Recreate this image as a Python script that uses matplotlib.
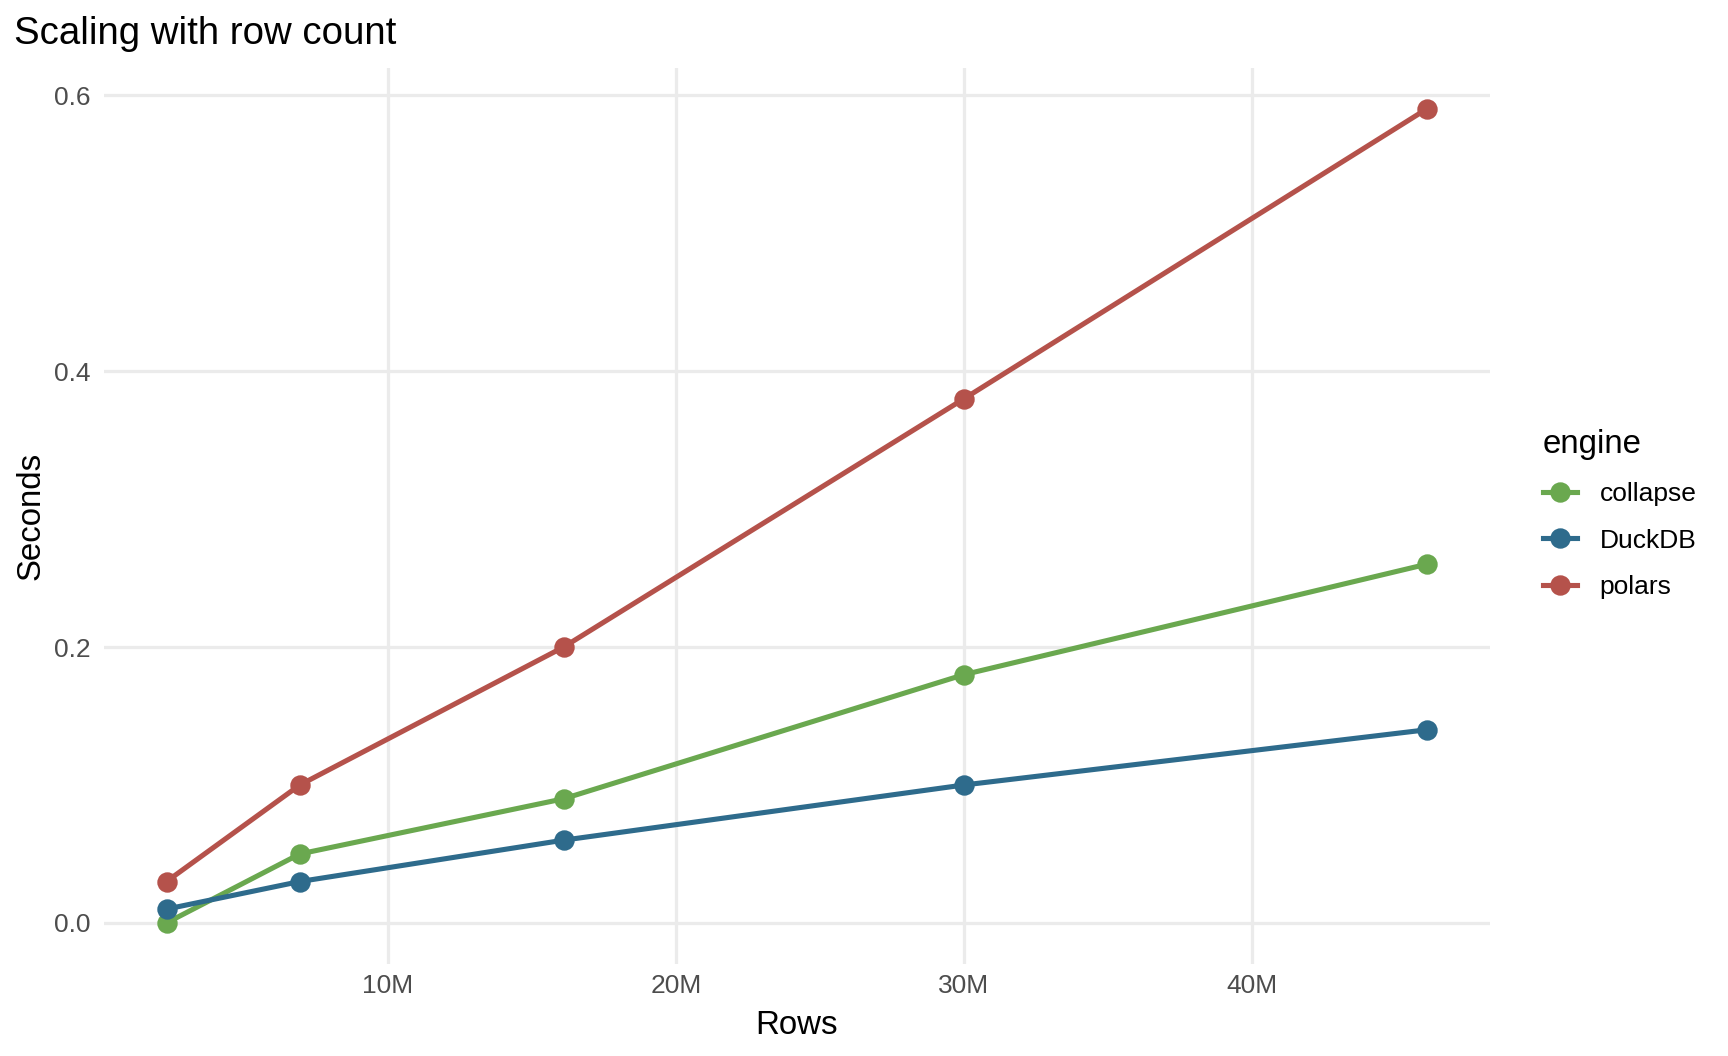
import matplotlib
matplotlib.use("Agg")
import matplotlib.pyplot as plt
from matplotlib.lines import Line2D
from matplotlib.ticker import FuncFormatter

rows_m = [2.31, 6.94, 16.1, 30.0, 46.06]
engines = ["collapse", "DuckDB", "polars"]
collapse = [0.0, 0.05, 0.09, 0.18, 0.26]
duckdb = [0.01, 0.03, 0.06, 0.10, 0.14]
polars = [0.03, 0.10, 0.20, 0.38, 0.59]
colors = {"collapse": "#6AA84F", "DuckDB": "#2E6B8C", "polars": "#B5524B"}
series = {"collapse": collapse, "DuckDB": duckdb, "polars": polars}
xticks = [10, 20, 30, 40]
yticks = [0.0, 0.2, 0.4, 0.6]

plt.rcParams['font.family'] = ['Liberation Sans', 'DejaVu Sans']

W, H = 1728, 1056
fig = plt.figure(figsize=(8, H / 216), dpi=216)
ax = fig.add_axes([103.5 / W, 1 - 963.6 / H, (1489.5 - 103.5) / W, (963.6 - 68.4) / H])

rows = [r * 1e6 for r in rows_m]
for name in engines:
    ax.plot(rows, series[name], color=colors[name], lw=1.7, marker='o',
            markersize=5.8, solid_capstyle='butt', zorder=3)

xr = max(rows) - min(rows)
ax.set_xlim(min(rows) - 0.05 * xr, max(rows) + 0.05 * xr)
ally = collapse + duckdb + polars
yr = max(ally) - min(ally)
ax.set_ylim(min(ally) - 0.05 * yr, max(ally) + 0.05 * yr)

ax.set_xticks([t * 1e6 for t in xticks])
ax.xaxis.set_major_formatter(FuncFormatter(lambda v, p: f"{int(round(v / 1e6))}M"))
ax.set_yticks(yticks)
ax.yaxis.set_major_formatter(FuncFormatter(lambda v, p: f"{v:.1f}"))

for s in ax.spines.values():
    s.set_visible(False)
ax.grid(True, color='#EBEBEB', lw=1.1, zorder=0)
ax.set_axisbelow(True)
ax.tick_params(length=0, labelsize=8.8, labelcolor='#4D4D4D')
ax.tick_params(axis='x', pad=3.5)
ax.tick_params(axis='y', pad=4.4)

ax.set_xlabel("Rows", fontsize=11, color='black', labelpad=4)
ax.set_ylabel("Seconds", fontsize=11, color='black', labelpad=2.5)

fig.text(14 / W, 1 - 44 / H, "Scaling with row count", fontsize=12.8,
         va='baseline', ha='left', color='black')

handles = [Line2D([0], [0], color=colors[n], lw=1.7, marker='o', markersize=5.8)
           for n in engines]
leg = fig.legend(handles, engines, title="engine", loc='upper left',
                 bbox_to_anchor=(1519 / W, 1 - 405 / H), frameon=False,
                 fontsize=8.8, title_fontsize=11, handlelength=1.3,
                 handletextpad=0.85, labelspacing=0.85, alignment='left')

fig.savefig("out.png", dpi=216, facecolor='white')
